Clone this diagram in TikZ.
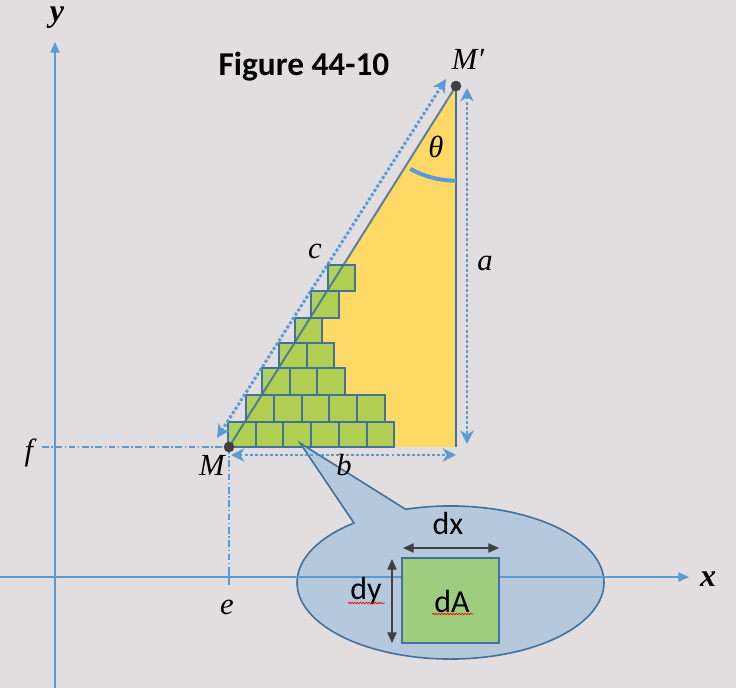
\documentclass[tikz,border=0pt]{standalone}
\usepackage{fontspec}
\newfontfamily\calib{Carlito}
\newfontfamily\lblfont{Liberation Serif}
\usetikzlibrary{arrows.meta,decorations.pathmorphing,calc}
\definecolor{bg}{HTML}{E2DEE0}
\definecolor{axisblue}{HTML}{5B9BD5}
\definecolor{edgeblue}{HTML}{41719C}
\definecolor{tri}{HTML}{FED966}
\definecolor{sq}{HTML}{A8CF50}
\definecolor{dA}{HTML}{9FCD7F}
\definecolor{callout}{HTML}{B6C8DC}
\definecolor{dot}{HTML}{404040}
\tikzset{
  axisline/.style={axisblue, line width=1pt, -{Triangle[length=8pt,width=7pt]}},
  guide/.style={axisblue, line width=0.8pt, dash pattern=on 5pt off 2pt on 1pt off 2pt},
  dotarrow/.style={axisblue, line width=2.2pt, dash pattern=on 2.2pt off 1.6pt,
     {Stealth[length=10pt,width=10pt,inset=3pt]}-{Stealth[length=10pt,width=10pt,inset=3pt]}},
  cell/.style={draw=edgeblue, fill=sq, fill opacity=0.9, line width=1.5pt},
  lab/.style={font=\lblfont\itshape\fontsize{23}{27}\selectfont, inner sep=0pt, anchor=base},
  blab/.style={font=\lblfont\bfseries\itshape\fontsize{24}{28}\selectfont, inner sep=0pt, anchor=base, text height=11pt},
  sflab/.style={font=\calib\fontsize{24}{28}\selectfont, inner sep=0pt, anchor=base},
  dimarrow/.style={dot, line width=0.8pt, {Triangle[length=8pt,width=7pt]}-{Triangle[length=8pt,width=7pt]}},
  spell/.style={red, line width=0.5pt, decorate, decoration={snake, amplitude=0.6pt, segment length=2.2pt}},
  ptdot/.style={circle, fill=dot, inner sep=0pt, minimum size=8pt}
}
\begin{document}
\begin{tikzpicture}[x=0.75pt,y=-0.75pt]
\fill[bg] (0,0) rectangle (736,688);
\useasboundingbox (0,0) rectangle (736,688);

% coordinates
\coordinate (M) at (229,447);
\coordinate (Mp) at (456,86);
\coordinate (C) at (456,447);

% triangle
\fill[tri] (M) -- (Mp) -- (C) -- cycle;

% squares
\foreach \x/\yt/\yb/\n/\w in {228/422/447/6/27.7, 246/395/422/5/27.8, 262/368/395/3/27.7,
   279/343/368/2/27.5, 295/318/343/1/27, 311/291/318/1/28, 328/265/291/1/27}{
  \foreach \i in {1,...,\n}{
    \draw[cell] ({\x+(\i-1)*\w},\yt) rectangle ({\x+\i*\w},\yb);
  }
}

% triangle edges
\draw[edgeblue, line width=1.5pt, opacity=0.85] (M) -- (Mp);
\draw[edgeblue, line width=1.5pt] (Mp) -- (C);

% axes
\coordinate (yb) at (55,688);
\coordinate (yt) at (55,42);
\coordinate (xl) at (0,577);
\coordinate (xr) at (689,577);

% callout
\coordinate (E) at (450.5,582.5);
\coordinate (tip) at (300,443);
\filldraw[fill=callout, draw=edgeblue, line width=1.2pt]
  ($(E)+(129:115.1pt and 57.4pt)$) -- (tip) -- ($(E)+(107:115.1pt and 57.4pt)$)
  arc[start angle=107, end angle=-231, x radius=115.1pt, y radius=57.4pt] -- cycle;

\draw[axisline] (yb) -- (yt);
\draw[axisline] (xl) -- (xr);

% guides
\coordinate (fL) at (42,447);
\coordinate (eB) at (229,575);
\draw[guide] (fL) -- (M);
\draw[guide] (M) -- (eB);
\coordinate (e1) at (229,571);
\coordinate (e2) at (229,585);
\draw[axisblue, line width=1.6pt] (e1) -- (e2);

% dotted dimension arrows
\coordinate (h1) at (217,438);
\coordinate (h2) at (446,79);
\draw[dotarrow] (h1) -- (h2);
\coordinate (v1) at (467,88);
\coordinate (v2) at (467,444);
\draw[dotarrow] (v1) -- (v2);
\coordinate (b1) at (231,455);
\coordinate (b2) at (456,455);
\draw[dotarrow] (b1) -- (b2);

% angle arc
\draw[axisblue, line width=3pt] ($(Mp)+(241:71pt)$) arc[start angle=241, end angle=270, radius=71pt];

% points
\node[ptdot] (Mdot) at (M) {};
\node[ptdot] (Mpdot) at (Mp) {};

% labels
\node[lab] (lMp) at (468,70) {M′};
\node[lab] (lM) at (212,475) {M};
\node[lab] (lc) at (315,258) {c};
\node[lab] (la) at (485,271) {a};
\node[lab] (lb) at (344,475) {b};
\node[lab] (lth) at (436,158) {θ};
\node[lab] (lf) at (29,460) {f};
\node[lab] (le) at (227,614) {e};
\node[blab] (ly) at (57,22) {y};
\node[blab] (lx) at (708,586) {x};
\node[font=\calib\bfseries\fontsize{25}{29}\selectfont, inner sep=0pt, anchor=base] (title) at (304,76) {Figure 44-10};

% dA detail
\node[draw=edgeblue, fill=dA, line width=1.5pt, minimum width=72.75pt, minimum height=63.75pt, inner sep=0pt] (sqA) at (450.5,600.5) {};
\node[sflab] (ldA) at (452,612) {dA};
\coordinate (dx1) at (403,548);
\coordinate (dx2) at (499,548);
\draw[dimarrow] (dx1) -- (dx2);
\node[sflab] (ldx) at (448,534) {dx};
\coordinate (dy1) at (392,559);
\coordinate (dy2) at (392,643);
\draw[dimarrow] (dy1) -- (dy2);
\node[sflab] (ldy) at (366,599) {dy};
\coordinate (s1) at (348,603);
\coordinate (s2) at (385,603);
\draw[spell] (s1) -- (s2);
\coordinate (s3) at (432,614);
\coordinate (s4) at (473,614);
\draw[spell] (s3) -- (s4);
\end{tikzpicture}
\end{document}
